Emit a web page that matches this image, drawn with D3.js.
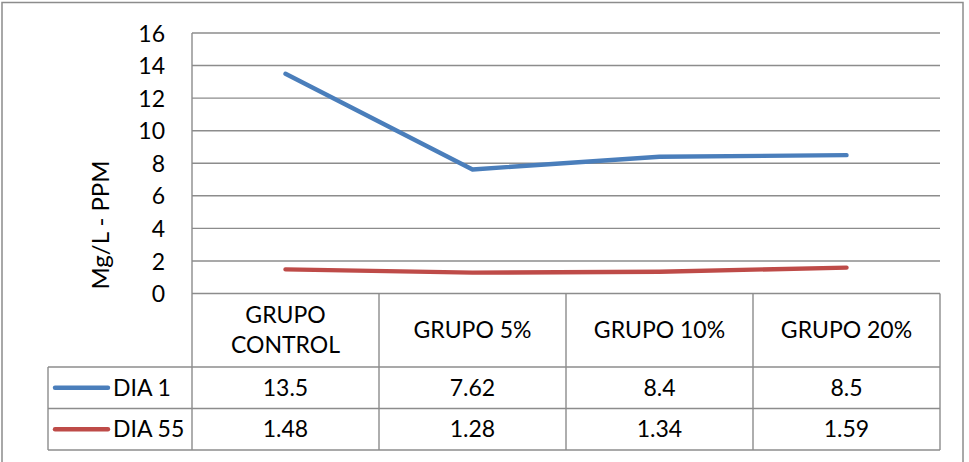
<!DOCTYPE html>
<html><head><meta charset="utf-8">
<script src="https://cdn.jsdelivr.net/npm/d3@7"></script>
<style>body{margin:0;background:#fff}svg{display:block}text{font-family:Lato,"Liberation Sans",sans-serif;fill:#000}</style>
</head><body>
<script>
const categories = [["GRUPO","CONTROL"],["GRUPO 5%"],["GRUPO 10%"],["GRUPO 20%"]];
const seriesNames = ["DIA 1","DIA 55"];
const dia1 = [13.5, 7.62, 8.4, 8.5];
const dia55 = [1.48, 1.28, 1.34, 1.59];
const yTicks = [0,2,4,6,8,10,12,14,16];
const colors = ["#4A7EBB","#BE4B48"];
const yTitle = "Mg/L - PPM";

const W=969,H=462,FS=23;
const svg=d3.select("body").append("svg").attr("width",W).attr("height",H);
svg.append("rect").attr("x",2).attr("y",2.5).attr("width",961).attr("height",480).attr("fill","#fff").attr("stroke","#8c8c8c").attr("stroke-width",1.5);

const L=192,R=940,T=33,B=293.5;
const x=d3.scaleBand().domain(d3.range(categories.length)).range([L,R]).padding(0);
const y=d3.scaleLinear().domain([0,16]).range([B,T]);
const grid="#8c8c8c";

// gridlines
svg.append("g").selectAll("line").data(yTicks).join("line")
 .attr("x1",L).attr("x2",R).attr("y1",d=>y(d)).attr("y2",d=>y(d))
 .attr("stroke",grid).attr("stroke-width",1.4);
svg.append("line").attr("x1",L).attr("x2",L).attr("y1",T).attr("y2",450).attr("stroke",grid).attr("stroke-width",1.4);

// y axis labels
const yAxis=d3.axisLeft(y).tickValues(yTicks).tickSize(0).tickPadding(0);
const ga=svg.append("g").attr("transform",`translate(165,0)`).call(yAxis);
ga.select(".domain").remove();
ga.selectAll("text").attr("font-size",FS).attr("font-family","Lato,'Liberation Sans',sans-serif").attr("fill","#000").attr("dy","0.35em");

svg.append("text").attr("transform",`translate(109,225) rotate(-90)`).attr("text-anchor","middle")
 .attr("font-size",24).text(yTitle);

// lines
const line=d3.line().x((d,i)=>x(i)+x.bandwidth()/2).y(d=>y(d));
[dia1,dia55].forEach((s,k)=>{
 svg.append("path").attr("d",line(s)).attr("fill","none").attr("stroke",colors[k]).attr("stroke-width",4.4).attr("stroke-linecap","round").attr("stroke-linejoin","round");
});

// data table
const rowTop=[293.5,367,408.5,450];
const tg=svg.append("g");
x.domain().forEach(i=>{
 tg.append("line").attr("x1",x(i)+x.bandwidth()).attr("x2",x(i)+x.bandwidth()).attr("y1",B).attr("y2",450).attr("stroke",grid).attr("stroke-width",1.4);
});
[367,408.5,450].forEach(yy=>tg.append("line").attr("x1",48).attr("x2",R).attr("y1",yy).attr("y2",yy).attr("stroke",grid).attr("stroke-width",1.4));
tg.append("line").attr("x1",48).attr("x2",48).attr("y1",367).attr("y2",450).attr("stroke",grid).attr("stroke-width",1.4);

categories.forEach((c,i)=>{
 const cx=x(i)+x.bandwidth()/2, cy=(rowTop[0]+rowTop[1])/2;
 const t=tg.append("text").attr("x",cx).attr("text-anchor","middle").attr("font-size",FS);
 c.forEach((ln,j)=>t.append("tspan").attr("x",cx).attr("y",cy+(j-(c.length-1)/2)*30).attr("dy","0.35em").text(ln));
});
[dia1,dia55].forEach((s,k)=>{
 const cy=(rowTop[k+1]+rowTop[k+2])/2;
 tg.append("line").attr("x1",55).attr("x2",108).attr("y1",cy).attr("y2",cy).attr("stroke",colors[k]).attr("stroke-width",4.4).attr("stroke-linecap","round");
 tg.append("text").attr("x",113).attr("y",cy).attr("dy","0.35em").attr("font-size",FS).text(seriesNames[k]);
 s.forEach((v,i)=>tg.append("text").attr("x",x(i)+x.bandwidth()/2).attr("y",cy).attr("dy","0.35em").attr("text-anchor","middle").attr("font-size",FS).text(String(v)));
});
</script>
</body></html>
